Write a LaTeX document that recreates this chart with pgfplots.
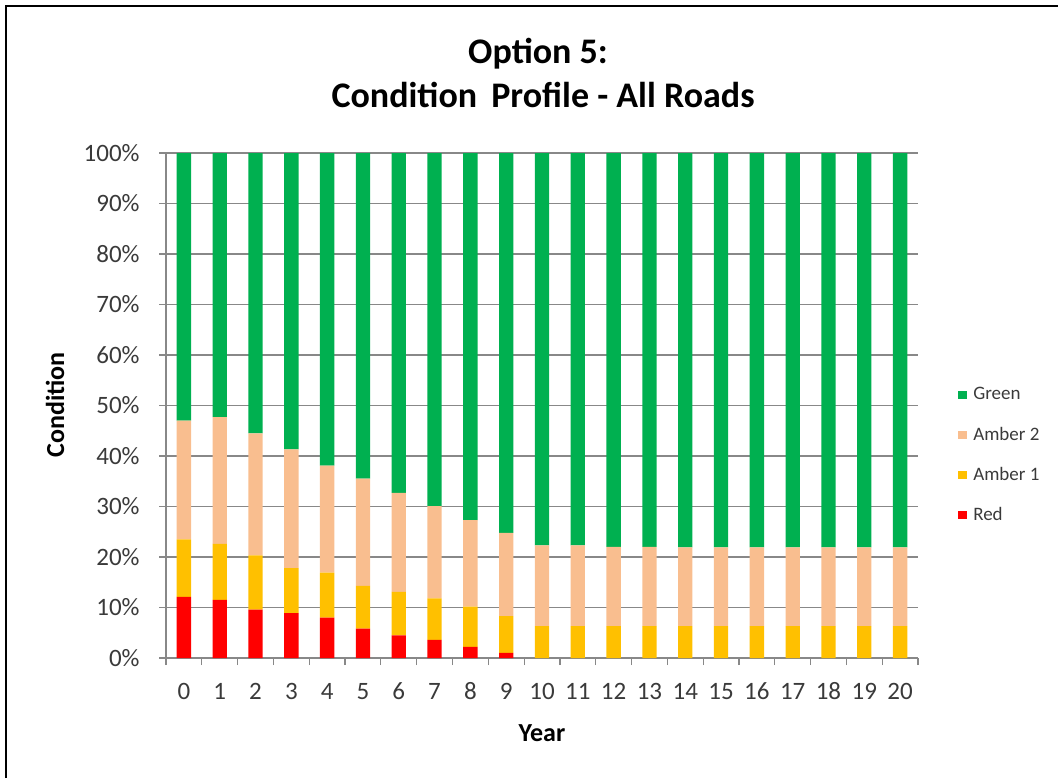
\documentclass[border=0pt]{standalone}
\usepackage{pgfplots}
\pgfplotsset{compat=1.18}
\usepackage{pgfplotstable}
\usepackage{fontspec}
\setmainfont{Carlito}

\definecolor{cgreen}{HTML}{00B050}
\definecolor{camber2}{HTML}{F9BE8F}
\definecolor{camber1}{HTML}{FFC000}
\definecolor{cred}{HTML}{FF0000}
\definecolor{cgrid}{HTML}{888888}
\definecolor{ctext}{HTML}{3A3A3A}

% Share of network in each condition band (%), by year
\pgfplotstableread{
year red amberone ambertwo green
0   12.1 11.4 23.5 53.0
1   11.5 11.1 25.1 52.3
2    9.6 10.7 24.2 55.5
3    8.9  8.9 23.5 58.7
4    8.0  8.9 21.2 61.9
5    5.8  8.5 21.2 64.5
6    4.5  8.6 19.6 67.3
7    3.6  8.2 18.3 69.9
8    2.2  8.0 17.1 72.7
9    1.0  7.3 16.5 75.2
10   0.0  6.3 16.0 77.7
11   0.0  6.3 16.0 77.7
12   0.0  6.3 15.7 78.0
13   0.0  6.3 15.7 78.0
14   0.0  6.3 15.6 78.1
15   0.0  6.3 15.6 78.1
16   0.0  6.3 15.6 78.1
17   0.0  6.3 15.6 78.1
18   0.0  6.3 15.6 78.1
19   0.0  6.3 15.6 78.1
20   0.0  6.3 15.6 78.1
}\conditiondata

\begin{document}
\begin{tikzpicture}
% canvas and frame
\path[use as bounding box] (0pt,0pt) rectangle (529pt,389pt);
\draw[line width=1pt] (3pt,0pt) -- (3pt,386pt) -- (529pt,386pt);

\begin{axis}[
  at={(83pt,60pt)}, anchor=south west,
  scale only axis, width=376pt, height=252.5pt,
  ybar stacked, bar width=0.4,
  xmin=-0.5, xmax=20.5, ymin=0, ymax=100,
  axis x line*=bottom, axis y line*=left,
  axis line style={cgrid, line width=0.6pt, -},
  tick style={cgrid, line width=0.6pt},
  tick align=outside, major tick length=3.5pt,
  xtick={-0.5,0.5,...,20.5},
  x tick label as interval,
  xticklabels={0,1,2,3,4,5,6,7,8,9,10,11,12,13,14,15,16,17,18,19,20},
  ytick={0,10,...,100},
  yticklabels={0\%,10\%,20\%,30\%,40\%,50\%,60\%,70\%,80\%,90\%,100\%},
  ymajorgrids, grid style={cgrid, line width=0.6pt},
  /pgf/number format/assume math mode=true,
  ticklabel style={font=\fontsize{12.5}{14}\selectfont, text=ctext},
  xticklabel style={inner sep=0pt, anchor=north, text height=8pt, text depth=0pt, yshift=-9pt},
  yticklabel style={inner sep=0pt, anchor=east, xshift=-9.5pt},
  legend style={
    at={(1.053,0.561)}, anchor=north west, draw=none, fill=none,
    inner sep=0pt,
    font=\fontsize{9.5}{11}\selectfont,
    text=ctext,
    nodes={minimum height=20pt, inner sep=0pt, anchor=west},
    /tikz/every odd column/.append style={column sep=3.3pt},
    legend cell align=left,
  },
  legend image code/.code={\fill[#1] (0pt,-2.1pt) rectangle (4.2pt,2.1pt);},
  reverse legend,
]
\addplot[fill=cred, draw=none] table[x=year, y=red] {\conditiondata};
\addplot[fill=camber1, draw=none] table[x=year, y=amberone] {\conditiondata};
\addplot[fill=camber2, draw=none] table[x=year, y=ambertwo] {\conditiondata};
\addplot[fill=cgreen, draw=none] table[x=year, y=green] {\conditiondata};
\legend{Red, Amber 1, Amber 2, Green}
\end{axis}

% titles and axis labels
\node[font=\fontsize{18}{20}\selectfont\bfseries, anchor=base] at (269pt,357pt) {Option 5:};
\node[font=\fontsize{18}{20}\selectfont\bfseries, anchor=base] at (271.5pt,335pt) {Condition\, Profile - All Roads};
\node[font=\fontsize{13}{15}\selectfont\bfseries, rotate=90] at (27.5pt,186.5pt) {Condition};
\node[font=\fontsize{13}{15}\selectfont\bfseries] at (271pt,22.5pt) {Year};
\end{tikzpicture}
\end{document}
